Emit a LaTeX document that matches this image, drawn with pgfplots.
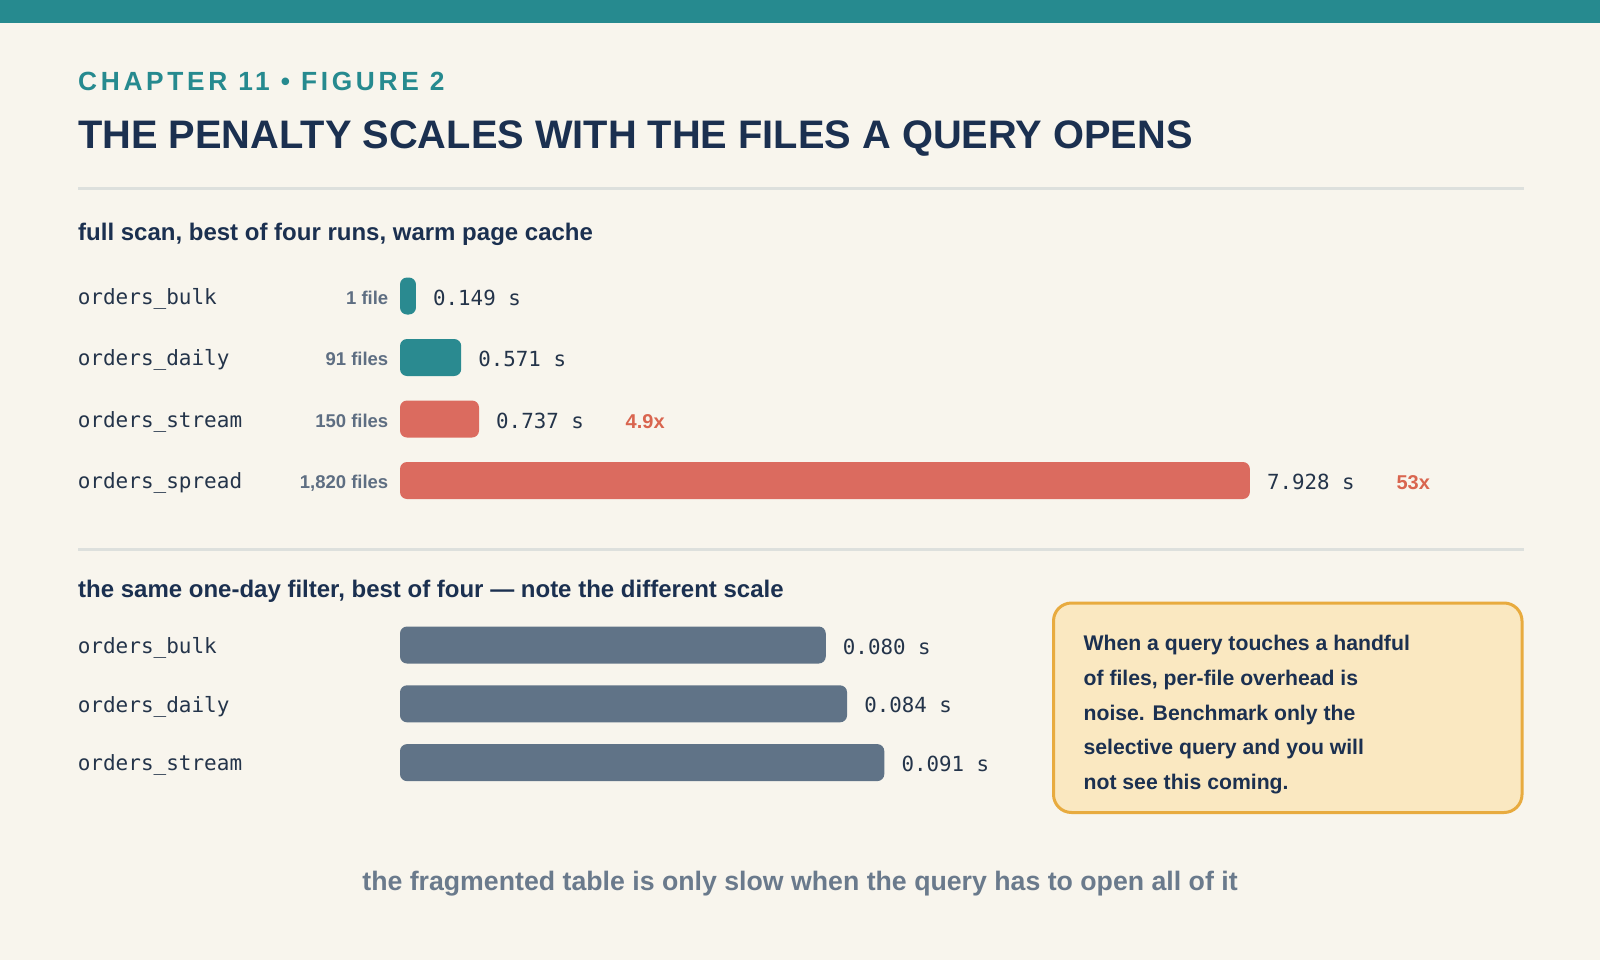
\documentclass[border=0pt]{standalone}
\usepackage{pgfplots}
\pgfplotsset{compat=1.18}
\usepackage{fontspec}
\setmainfont{Liberation Sans}
\newfontfamily\monof{DejaVu Sans Mono}
\newfontfamily\chapf[LetterSpace=14]{Liberation Sans}

\definecolor{bgc}{HTML}{F8F5ED}
\definecolor{bandc}{HTML}{268A8F}
\definecolor{navy}{HTML}{1B3050}
\definecolor{monoc}{HTML}{24344A}
\definecolor{countc}{HTML}{5E6E82}
\definecolor{tealbar}{HTML}{2A8A90}
\definecolor{redbar}{HTML}{DB6B5F}
\definecolor{redtxt}{HTML}{D9654F}
\definecolor{graybar}{HTML}{607387}
\definecolor{rulec}{HTML}{DDE0DD}
\definecolor{boxfill}{HTML}{FAE8C1}
\definecolor{boxline}{HTML}{E8AB3F}
\definecolor{footc}{HTML}{6A7A8C}

\newcommand{\fs}[1]{\fontsize{#1}{#1}\selectfont}
% row name on the left, file count right-aligned next to the bar
\newcommand{\rowlab}[2]{\makebox[310.5pt][l]{{\monof\fs{21}\color{monoc}#1}\hfill{\bfseries\fs{18.5}\color{countc}#2}}}

\begin{document}
\begin{tikzpicture}[x=1pt,y=-1pt]
\fill[bgc] (0,0) rectangle (1600,960);
\useasboundingbox (0,0) rectangle (1600,960);
\fill[bandc] (0,0) rectangle (1600,23.5);

\node[anchor=base west, inner sep=0pt, text=bandc, font=\chapf\bfseries\fs{26.3}] at (78,91) {CHAPTER 11 • FIGURE 2};
\node[anchor=base west, inner sep=0pt, text=navy, font=\bfseries\fs{39.8}] at (78,149) {THE PENALTY SCALES WITH THE FILES A QUERY OPENS};
\fill[rulec] (78,187.5) rectangle (1524,190.5);
\node[anchor=base west, inner sep=0pt, text=navy, font=\bfseries\fs{24}] at (78,240) {full scan, best of four runs, warm page cache};

% full scan
\begin{axis}[
  at={(400pt,-265.25pt)}, anchor=north west,
  scale only axis, width=857.6pt, height=246pt,
  xmin=0, xmax=8, ymin=-0.5, ymax=3.5, y dir=reverse,
  xbar, bar width=37pt,
  ytick={0,1,2,3},
  yticklabels={\rowlab{orders\_bulk}{1 file},\rowlab{orders\_daily}{91 files},\rowlab{orders\_stream}{150 files},\rowlab{orders\_spread}{1,820 files}},
  xtick=\empty,
  axis line style={draw=none}, major tick style={draw=none}, major tick length=0pt,
  clip=false,
  yticklabel style={anchor=base east, inner sep=0pt, xshift=-11.5pt, yshift=-8.3pt},
  point meta=x,
  nodes near coords={\pgfmathprintnumber[fixed,fixed zerofill,precision=3,assume math mode=true]{\pgfplotspointmeta} s},
  nodes near coords align={horizontal},
  every node near coord/.append style={anchor=base west, inner sep=0pt, xshift=17pt, yshift=-9pt, font=\monof\fs{20.8}, text=monoc},
]
\addplot[fill=tealbar, draw=none, bar shift=0pt, rounded corners=7pt] coordinates {(0.149,0) (0.571,1)};
\addplot[fill=redbar, draw=none, bar shift=0pt, rounded corners=7pt] coordinates {(0.737,2) (7.928,3)};
\node[anchor=base west, inner sep=0pt, xshift=146.5pt, yshift=-9pt, text=redtxt, font=\bfseries\fs{20}] at (axis cs:0.737,2) {4.9x};
\node[anchor=base west, inner sep=0pt, xshift=146.5pt, yshift=-9pt, text=redtxt, font=\bfseries\fs{20}] at (axis cs:7.928,3) {53x};
\end{axis}

\fill[rulec] (78,547.5) rectangle (1524,550.5);
\node[anchor=base west, inner sep=0pt, text=navy, font=\bfseries\fs{24}] at (78,597.3) {the same one-day filter, best of four — note the different scale};

% one-day filter
\begin{axis}[
  at={(400pt,-615.6pt)}, anchor=north west,
  scale only axis, width=532.2pt, height=176.4pt,
  xmin=0, xmax=0.1, ymin=-0.5, ymax=2.5, y dir=reverse,
  xbar, bar width=37pt,
  ytick={0,1,2},
  yticklabels={\rowlab{orders\_bulk}{},\rowlab{orders\_daily}{},\rowlab{orders\_stream}{}},
  xtick=\empty, scaled x ticks=false,
  axis line style={draw=none}, major tick style={draw=none}, major tick length=0pt,
  clip=false,
  yticklabel style={anchor=base east, inner sep=0pt, xshift=-11.5pt, yshift=-8.3pt},
  point meta=x,
  nodes near coords={\pgfmathprintnumber[fixed,fixed zerofill,precision=3,assume math mode=true]{\pgfplotspointmeta} s},
  nodes near coords align={horizontal},
  every node near coord/.append style={anchor=base west, inner sep=0pt, xshift=17pt, yshift=-9pt, font=\monof\fs{20.8}, text=monoc},
]
\addplot[fill=graybar, draw=none, bar shift=0pt, rounded corners=7pt] coordinates {(0.080,0) (0.084,1) (0.091,2)};
\end{axis}

% note box
\draw[boxline, line width=3pt, fill=boxfill, rounded corners=18pt] (1053.5,603) rectangle (1522,812.5);
\foreach \t [count=\i from 0] in {When a query touches a handful, {of files, per-file overhead is}, noise. Benchmark only the, selective query and you will, not see this coming.}
  \node[anchor=base west, inner sep=0pt, text=navy, font=\bfseries\fs{21.2}] at (1083.4,650.7+34.7*\i) {\t};

\node[anchor=base, inner sep=0pt, text=footc, font=\bfseries\fs{26.7}] at (800,890) {the fragmented table is only slow when the query has to open all of it};
\end{tikzpicture}
\end{document}
